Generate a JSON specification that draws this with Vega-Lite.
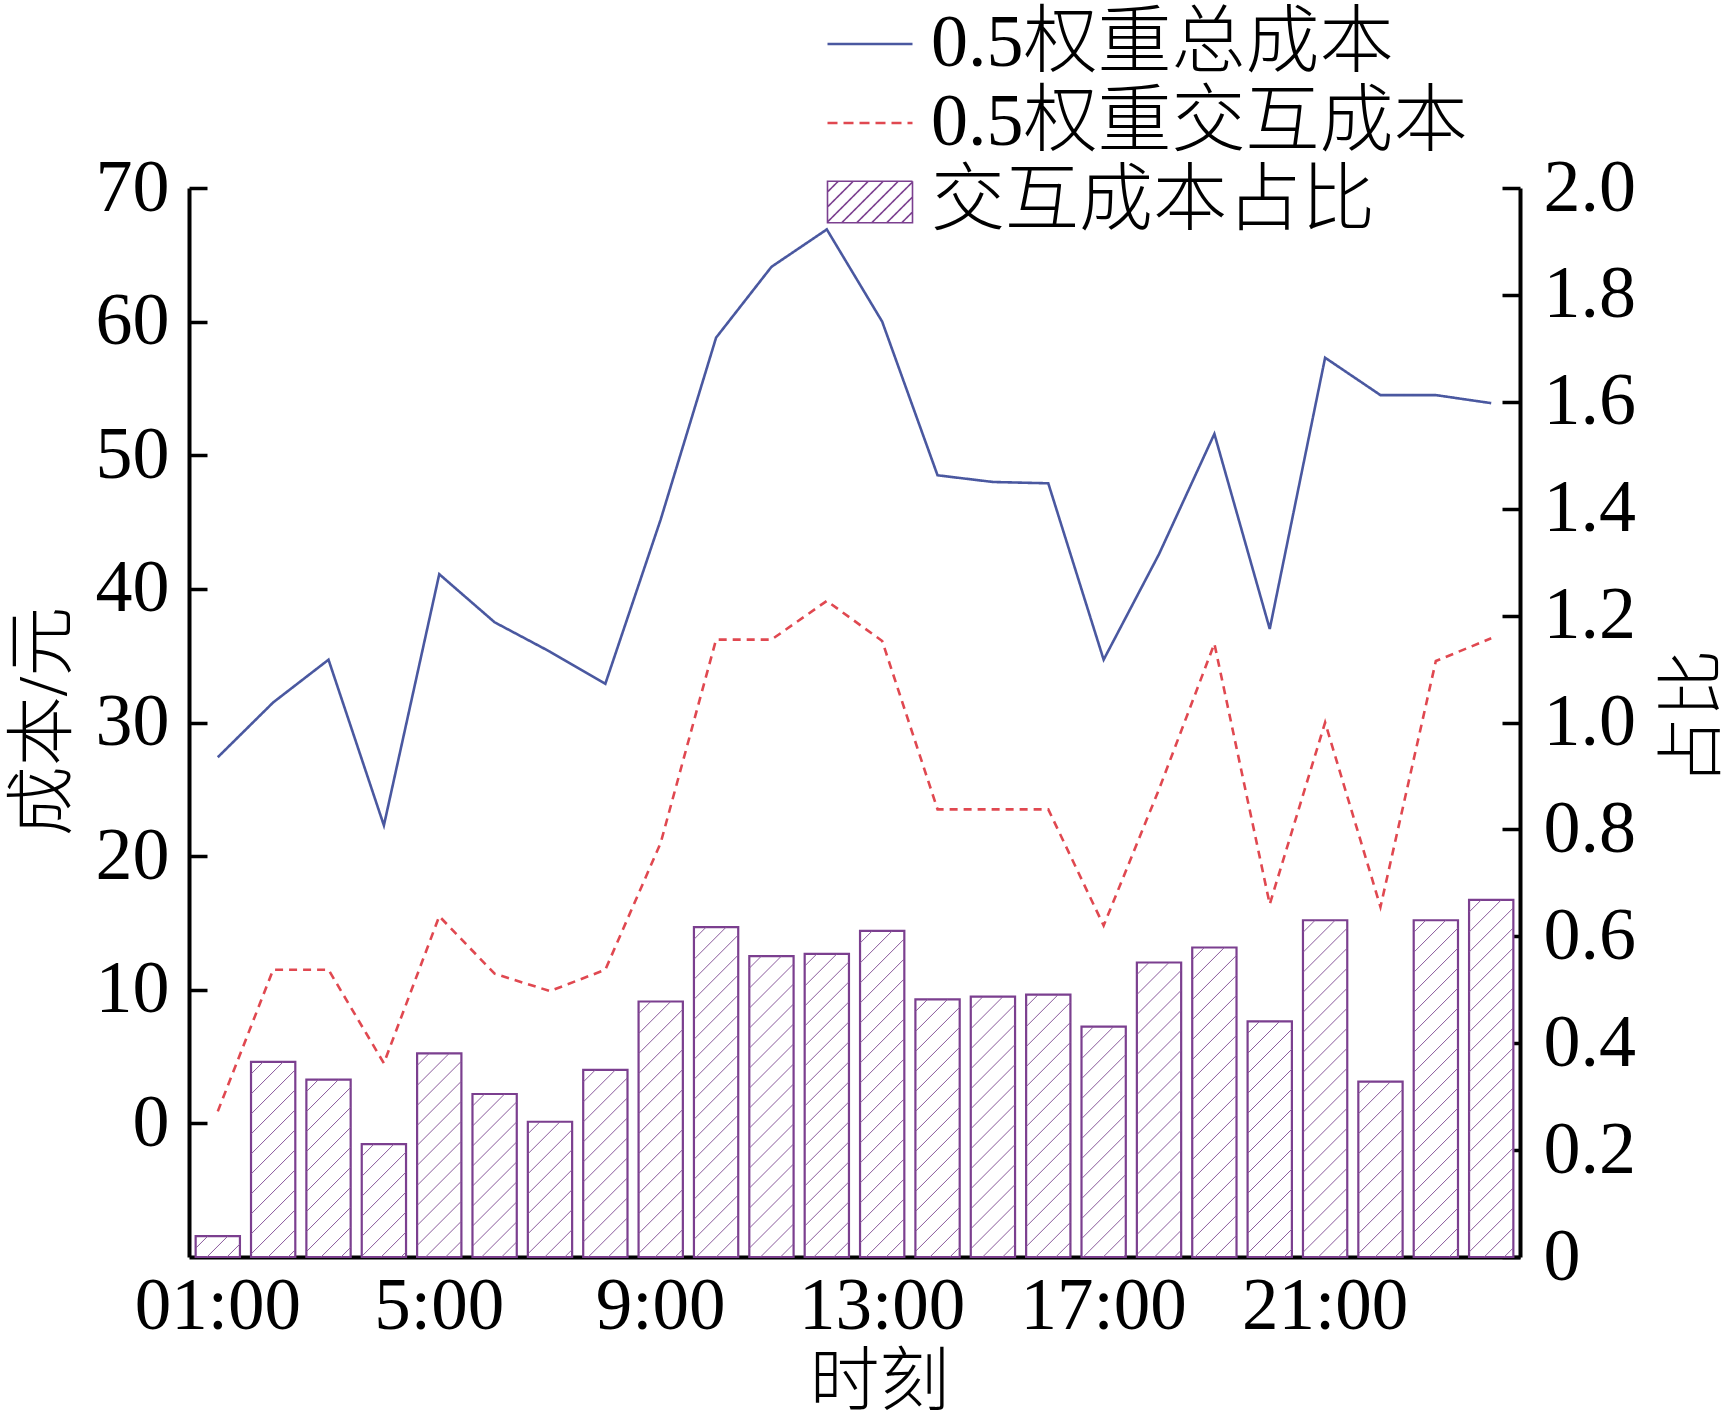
{
  "$schema": "https://vega.github.io/schema/vega-lite/v6.json",
  "width": 1331,
  "height": 1069,
  "autosize": {"type": "none"},
  "padding": {"left": 189, "top": 188, "right": 210, "bottom": 163},
  "background": "white",
  "config": {
    "view": {"stroke": null},
    "font": "Liberation Serif, Noto Sans CJK SC",
    "axis": {
      "grid": false,
      "domainColor": "black",
      "domainWidth": 4,
      "tickColor": "black",
      "tickWidth": 3.5,
      "tickSize": -18,
      "labelColor": "black",
      "labelFont": "Liberation Serif",
      "labelFontSize": 74,
      "titleColor": "black",
      "titleFont": "Liberation Serif, Noto Sans CJK SC",
      "titleFontSize": 70,
      "titleFontWeight": 300
    }
  },
  "datasets": {
    "bars": [
      {"h": 1, "ratio": 0.039}, {"h": 2, "ratio": 0.365}, {"h": 3, "ratio": 0.332}, {"h": 4, "ratio": 0.211},
      {"h": 5, "ratio": 0.381}, {"h": 6, "ratio": 0.305}, {"h": 7, "ratio": 0.253}, {"h": 8, "ratio": 0.35},
      {"h": 9, "ratio": 0.478}, {"h": 10, "ratio": 0.617}, {"h": 11, "ratio": 0.563}, {"h": 12, "ratio": 0.567},
      {"h": 13, "ratio": 0.61}, {"h": 14, "ratio": 0.482}, {"h": 15, "ratio": 0.487}, {"h": 16, "ratio": 0.491},
      {"h": 17, "ratio": 0.431}, {"h": 18, "ratio": 0.551}, {"h": 19, "ratio": 0.579}, {"h": 20, "ratio": 0.441},
      {"h": 21, "ratio": 0.63}, {"h": 22, "ratio": 0.328}, {"h": 23, "ratio": 0.63}, {"h": 24, "ratio": 0.668}
    ],
    "lines": [
      {"h": 1, "series": "0.5权重总成本", "v": 27.4}, {"h": 2, "series": "0.5权重总成本", "v": 31.5},
      {"h": 3, "series": "0.5权重总成本", "v": 34.7}, {"h": 4, "series": "0.5权重总成本", "v": 22.3},
      {"h": 5, "series": "0.5权重总成本", "v": 41.1}, {"h": 6, "series": "0.5权重总成本", "v": 37.5},
      {"h": 7, "series": "0.5权重总成本", "v": 35.3}, {"h": 8, "series": "0.5权重总成本", "v": 32.9},
      {"h": 9, "series": "0.5权重总成本", "v": 45.2}, {"h": 10, "series": "0.5权重总成本", "v": 58.8},
      {"h": 11, "series": "0.5权重总成本", "v": 64.1}, {"h": 12, "series": "0.5权重总成本", "v": 66.9},
      {"h": 13, "series": "0.5权重总成本", "v": 60.0}, {"h": 14, "series": "0.5权重总成本", "v": 48.5},
      {"h": 15, "series": "0.5权重总成本", "v": 48.0}, {"h": 16, "series": "0.5权重总成本", "v": 47.9},
      {"h": 17, "series": "0.5权重总成本", "v": 34.7}, {"h": 18, "series": "0.5权重总成本", "v": 42.6},
      {"h": 19, "series": "0.5权重总成本", "v": 51.6}, {"h": 20, "series": "0.5权重总成本", "v": 37.0},
      {"h": 21, "series": "0.5权重总成本", "v": 57.3}, {"h": 22, "series": "0.5权重总成本", "v": 54.5},
      {"h": 23, "series": "0.5权重总成本", "v": 54.5}, {"h": 24, "series": "0.5权重总成本", "v": 53.9},
      {"h": 1, "series": "0.5权重交互成本", "v": 0.9}, {"h": 2, "series": "0.5权重交互成本", "v": 11.5},
      {"h": 3, "series": "0.5权重交互成本", "v": 11.5}, {"h": 4, "series": "0.5权重交互成本", "v": 4.5},
      {"h": 5, "series": "0.5权重交互成本", "v": 15.5}, {"h": 6, "series": "0.5权重交互成本", "v": 11.2},
      {"h": 7, "series": "0.5权重交互成本", "v": 9.9}, {"h": 8, "series": "0.5权重交互成本", "v": 11.5},
      {"h": 9, "series": "0.5权重交互成本", "v": 21.0}, {"h": 10, "series": "0.5权重交互成本", "v": 36.2},
      {"h": 11, "series": "0.5权重交互成本", "v": 36.2}, {"h": 12, "series": "0.5权重交互成本", "v": 39.1},
      {"h": 13, "series": "0.5权重交互成本", "v": 36.1}, {"h": 14, "series": "0.5权重交互成本", "v": 23.5},
      {"h": 15, "series": "0.5权重交互成本", "v": 23.5}, {"h": 16, "series": "0.5权重交互成本", "v": 23.5},
      {"h": 17, "series": "0.5权重交互成本", "v": 14.8}, {"h": 18, "series": "0.5权重交互成本", "v": 25.0},
      {"h": 19, "series": "0.5权重交互成本", "v": 35.9}, {"h": 20, "series": "0.5权重交互成本", "v": 16.4},
      {"h": 21, "series": "0.5权重交互成本", "v": 30.0}, {"h": 22, "series": "0.5权重交互成本", "v": 16.2},
      {"h": 23, "series": "0.5权重交互成本", "v": 34.6}, {"h": 24, "series": "0.5权重交互成本", "v": 36.3}
    ]
  },
  "layer": [
    {
      "data": {"name": "bars"},
      "encoding": {
        "x": {
          "field": "h", "type": "ordinal",
          "scale": {"domain": [1,2,3,4,5,6,7,8,9,10,11,12,13,14,15,16,17,18,19,20,21,22,23,24], "paddingInner": 0.2, "paddingOuter": 0.12},
          "axis": {
            "orient": "bottom", "ticks": false, "labelAngle": 0, "labelOverlap": false, "labelPadding": 13,
            "labelFontSize": 73, "labelBaseline": "top",
            "labelExpr": "datum.value == 1 ? '01:00' : ((datum.value - 1) % 4 == 0 ? datum.value + ':00' : '')",
            "title": "时刻", "titleX": 690, "titleY": 147, "titleAlign": "center", "titleBaseline": "alphabetic", "titleAngle": 0
          }
        },
        "y": {
          "field": "ratio", "type": "quantitative",
          "scale": {"domain": [0, 2], "nice": false, "zero": true},
          "axis": {
            "orient": "right", "values": [0, 0.2, 0.4, 0.6, 0.8, 1.0, 1.2, 1.4, 1.6, 1.8, 2.0],
            "labelExpr": "datum.value == 0 ? '0' : format(datum.value, '.1f')",
            "labelPadding": 41, "labelAlign": "left",
            "title": "占比", "titleFontSize": 68, "titleAngle": -90, "titleX": 194, "titleY": 529, "titleAlign": "center", "titleBaseline": "alphabetic"
          }
        }
      },
      "layer": [
        {"mark": {"type": "bar", "fill": "white", "stroke": "#7b3f8f", "strokeWidth": 2.2}},
        {
          "mark": {
            "type": "point", "filled": false, "opacity": 1, "size": 4, "clip": true,
            "stroke": "#8a5a9c", "strokeWidth": 1,
            "shape": "M-22,12L-10,0M-22,32L10,0M-22,52L22,8M-22,72L22,28M-22,92L22,48M-22,112L22,68M-22,132L22,88M-22,152L22,108M-22,172L22,128M-22,192L22,148M-22,212L22,168M-22,232L22,188M-22,252L22,208M-22,272L22,228M-22,292L22,248M-22,312L22,268M-22,332L22,288M-22,352L22,308M-22,372L22,328M-22,392L22,348M-10,400L22,368M10,400L22,388"
          }
        }
      ]
    },
    {
      "data": {"name": "lines"},
      "mark": {"type": "line", "strokeWidth": 2.6},
      "encoding": {
        "x": {"field": "h", "type": "ordinal"},
        "y": {
          "field": "v", "type": "quantitative",
          "scale": {"domain": [-10, 70], "nice": false, "zero": false},
          "axis": {
            "orient": "left", "values": [0, 10, 20, 30, 40, 50, 60, 70], "labelPadding": 38,
            "title": "成本/元", "titleAngle": -90, "titleX": -124, "titleY": 533, "titleAlign": "center", "titleBaseline": "alphabetic"
          }
        },
        "stroke": {
          "field": "series", "type": "nominal",
          "scale": {"domain": ["0.5权重总成本", "0.5权重交互成本", "交互成本占比"], "range": ["#4a58a0", "#e04850", "#7b3f8f"]},
          "legend": {
            "orient": "none", "legendX": 644, "legendY": -181, "title": null, "padding": 0,
            "symbolSize": 1600, "labelOffset": 24, "rowPadding": 5,
            "labelFont": "Liberation Serif, Noto Sans CJK SC", "labelFontSize": 74, "labelFontWeight": 300, "labelColor": "black", "labelLimit": 0,
            "encode": {
              "symbols": {
                "update": {
                  "shape": {"signal": "datum.value === '交互成本占比' ? 'M-2.125,-1.04H2.125V1.04H-2.125Z M-2.125,-0.5L-1.585,-1.04 M-2.125,0.25L-0.835,-1.04 M-2.125,1L-0.085,-1.04 M-1.415,1.04L0.665,-1.04 M-0.665,1.04L1.415,-1.04 M0.085,1.04L2.125,-1 M0.835,1.04L2.125,-0.25 M1.585,1.04L2.125,0.5' : 'M-2.125,0H2.125'"},
                  "strokeDash": {"signal": "datum.value === '0.5权重交互成本' ? [10, 6] : [1, 0]"},
                  "fill": {"signal": "datum.value === '交互成本占比' ? 'white' : 'transparent'"},
                  "strokeWidth": {"signal": "datum.value === '交互成本占比' ? 1.6 : 2.6"},
                  "opacity": {"value": 1}
                }
              }
            }
          }
        },
        "strokeDash": {
          "field": "series", "type": "nominal",
          "scale": {"domain": ["0.5权重总成本", "0.5权重交互成本"], "range": [[1, 0], [8, 6]]},
          "legend": null
        }
      }
    }
  ],
  "resolve": {"scale": {"y": "independent"}, "axis": {"y": "independent"}}
}
